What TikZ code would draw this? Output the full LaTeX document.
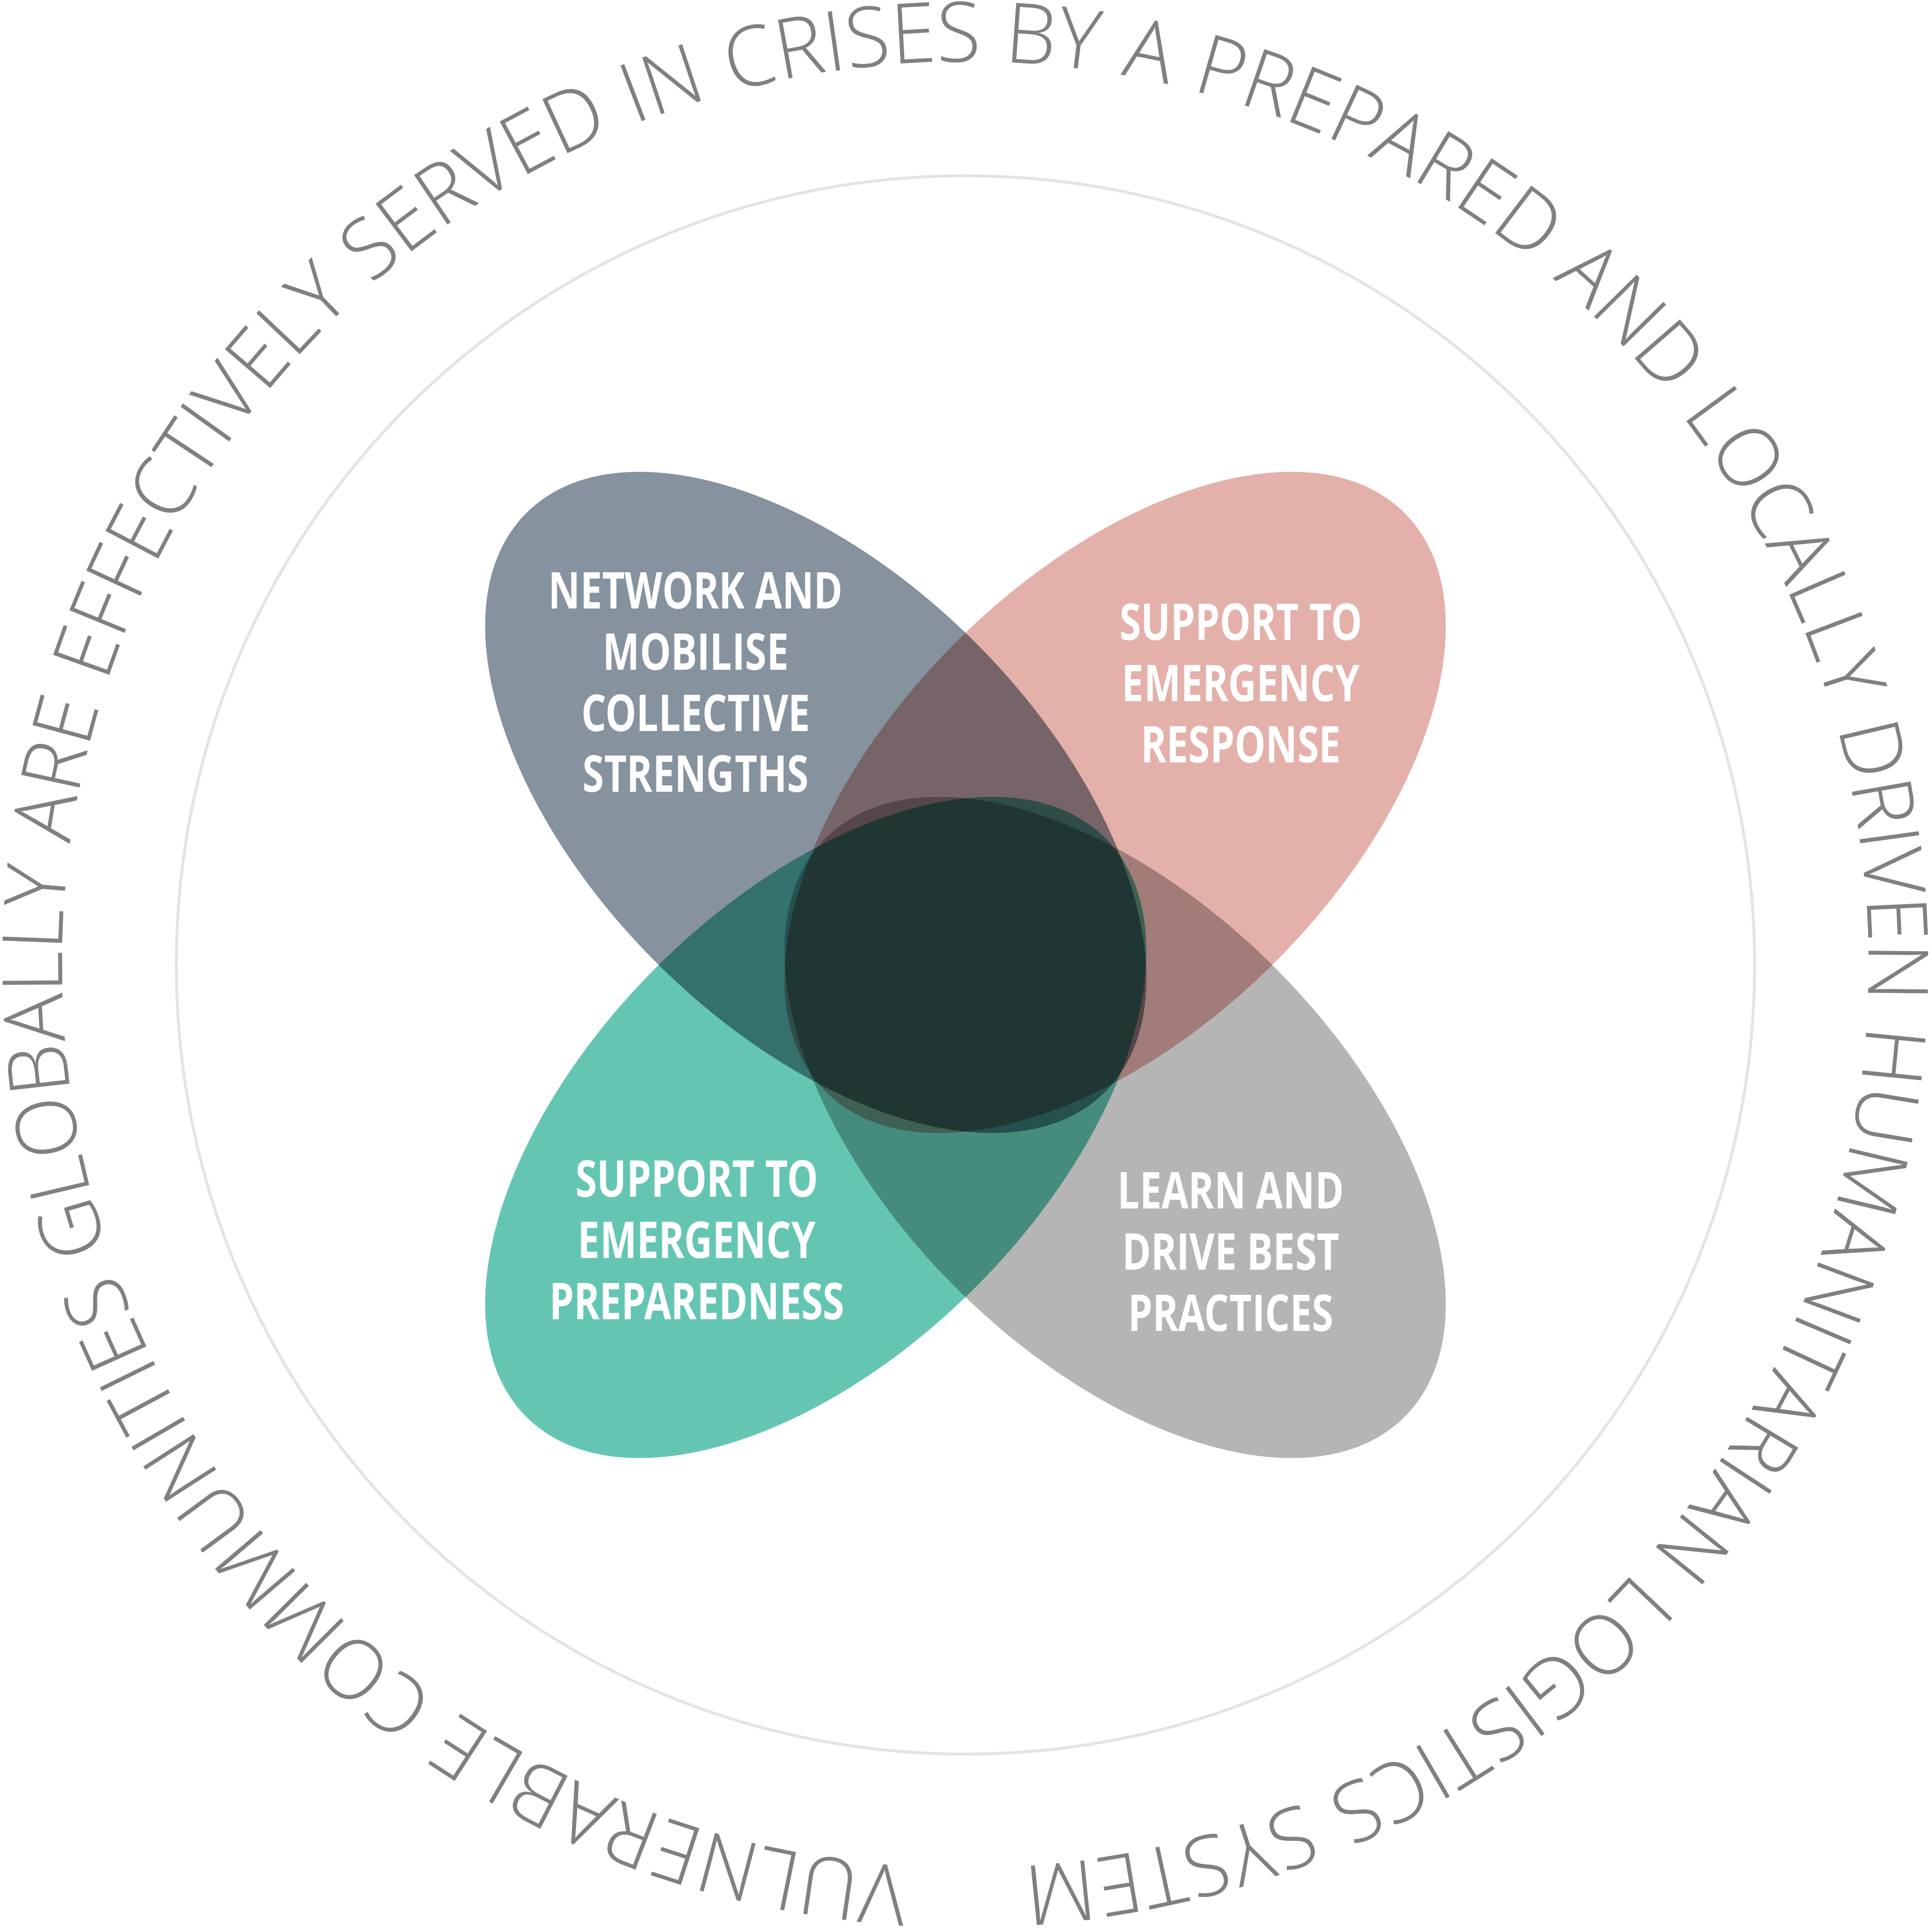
\documentclass[tikz,border=0pt]{standalone}
\usepackage{fontspec}
\usetikzlibrary{decorations.text}
% thin face for the ring slogan, condensed bold face for the petal labels
\IfFontExistsTF{Open Sans Light}
  {\newfontfamily\ringfont[FakeStretch=0.97]{Open Sans Light}}
  {\newfontfamily\ringfont[FakeStretch=0.97]{Open Sans}}
\newfontfamily\petalfont[FakeStretch=0.77]{Open Sans}

\definecolor{petalTL}{HTML}{86929D}
\definecolor{petalTR}{HTML}{E4B0AA}
\definecolor{petalBL}{HTML}{64C6B2}
\definecolor{petalBR}{HTML}{B5B5B5}
\definecolor{ringline}{HTML}{E4E4E4}
\definecolor{ringtext}{HTML}{808080}

\tikzset{
  petallabel/.style={text=white, align=center, inner sep=0pt,
    font=\petalfont\bfseries\fontsize{27.1}{32.7}\selectfont}
}

\begin{document}
\begin{tikzpicture}
\useasboundingbox (-18.12,-18.14) rectangle (18.14,18.11);

% thin frame circle
\draw[ringline, line width=0.055cm] (0,0) circle[radius=14.81];

% four elliptical petals, overlapping with multiply blending
\begin{scope}[blend group=multiply]
  \begin{scope}[shift={(-2.81,3.05)}, rotate=-45]
    \fill[petalTL] (0,0) ellipse[x radius=7.68, y radius=4.24];
  \end{scope}
  \begin{scope}[shift={(2.81,3.05)}, rotate=45]
    \fill[petalTR] (0,0) ellipse[x radius=7.68, y radius=4.24];
  \end{scope}
  \begin{scope}[shift={(-2.81,-3.05)}, rotate=45]
    \fill[petalBL] (0,0) ellipse[x radius=7.68, y radius=4.24];
  \end{scope}
  \begin{scope}[shift={(2.81,-3.05)}, rotate=-45]
    \fill[petalBR] (0,0) ellipse[x radius=7.68, y radius=4.24];
  \end{scope}
\end{scope}

% petal labels
\node[petallabel] (network) at (-5.06,5.305) {NETWORK AND\\MOBILISE\\COLLECTIVE\\STRENGTHS};
\node[petallabel] (response) at (5.17,5.285) {SUPPORT TO\\EMERGENCY\\RESPONSE};
\node[petallabel] (prepared) at (-5.04,-5.16) {SUPPORT TO\\EMERGENCY\\PREPAREDNESS};
\node[petallabel] (learn) at (4.98,-5.39) {LEARN AND\\DRIVE BEST\\PRACTICES};

% slogan running clockwise round the frame, from bottom left to bottom right
\path[decorate, decoration={text along path,
    text color=ringtext,
    text align={fit to path stretching spaces},
    text={|\ringfont\fontsize{44.6}{50}\selectfont|VULNERABLE COMMUNITIES GLOBALLY ARE EFFECTIVELY SERVED IN CRISES BY A PREPARED AND LOCALLY DRIVEN HUMANITARIAN LOGISTICS SYSTEM}}]
  (-93.6:16.95) arc[start angle=-93.6, end angle=-446.25, radius=16.95];
\end{tikzpicture}
\end{document}
